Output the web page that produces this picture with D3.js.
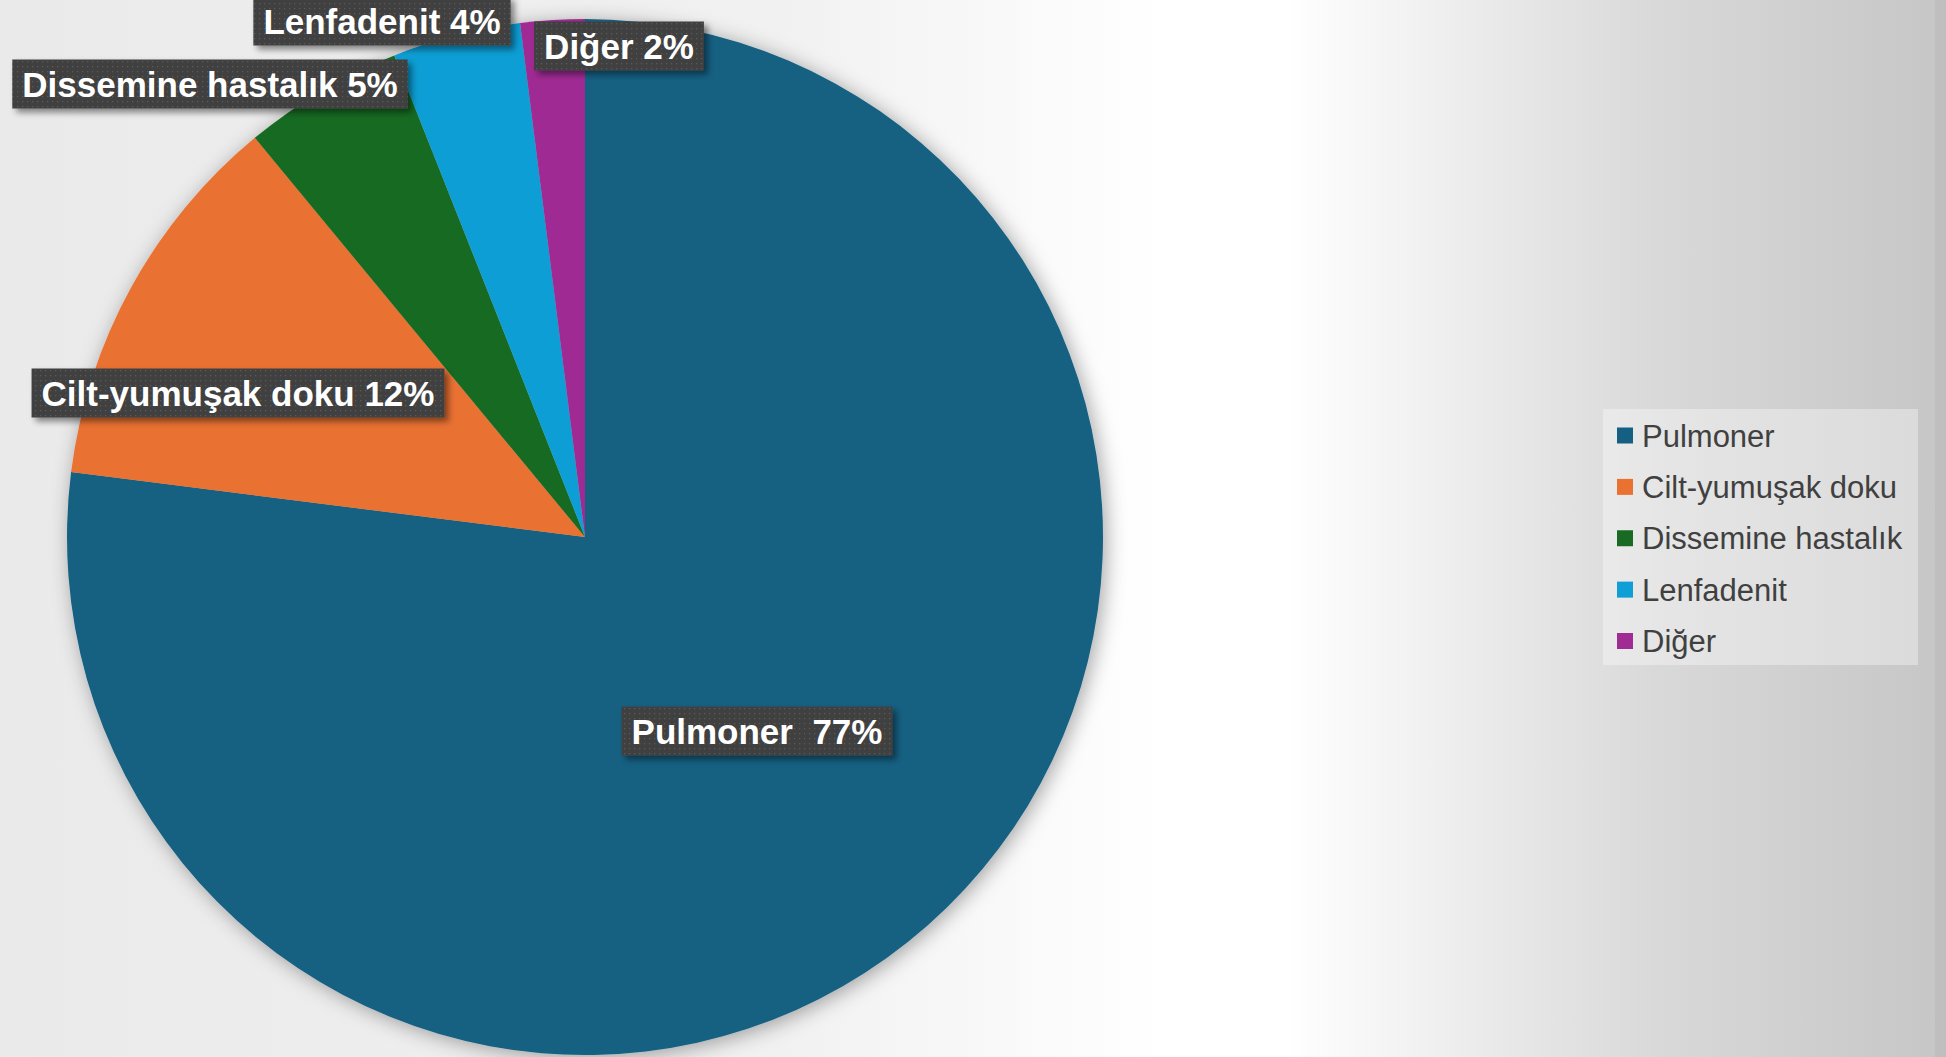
<!DOCTYPE html>
<html>
<head>
<meta charset="utf-8">
<script src="https://cdn.jsdelivr.net/npm/d3@7"></script>
<style>
  html, body { margin: 0; padding: 0; overflow: hidden; }
  svg { display: block; }
  text { font-family: "Liberation Sans", Arial, sans-serif; }
</style>
</head>
<body>
<svg></svg>
<script>
// Data
const categories = ['Pulmoner', 'Cilt-yumuşak doku', 'Dissemine hastalık', 'Lenfadenit', 'Diğer'];
const values = [77, 12, 5, 4, 2];
const dataLabels = ['Pulmoner  77%', 'Cilt-yumuşak doku 12%', 'Dissemine hastalık 5%', 'Lenfadenit 4%', 'Diğer 2%'];
const colors = ['#156082', '#E97132', '#196B24', '#0F9ED5', '#A02B93'];

// Layout
const W = 1946, H = 1057;
const cx = 585, cy = 537, R = 518;
// data label box centres (Excel "best fit" placement)
const labelPos = [[757, 731], [238, 393], [210, 84], [382, 21], [619, 46]];

const svg = d3.select('svg').attr('width', W).attr('height', H);
const defs = svg.append('defs');

// ---------------------------------------------------------
// Background gradient
const bg = defs.append('linearGradient').attr('id', 'bg')
    .attr('x1', 0).attr('x2', 1).attr('y1', 0).attr('y2', 0);
[[0, '#eaeaea'], [0.4, '#f1f1f1'], [0.6, '#ffffff'], [0.66, '#ffffff'], [0.85, '#d9d9d9'], [1, '#c6c6c6']]
    .forEach(([o, c]) => bg.append('stop').attr('offset', o).attr('stop-color', c));
svg.append('rect').attr('width', W).attr('height', H).attr('fill', 'url(#bg)');
svg.append('rect').attr('x', 1935).attr('width', 11).attr('height', H)
    .attr('fill', '#000').attr('opacity', 0.04);

// Shadows
defs.append('filter').attr('id', 'pieShadow')
    .attr('x', '-10%').attr('y', '-10%').attr('width', '120%').attr('height', '120%')
    .append('feDropShadow').attr('dx', 3).attr('dy', 3)
    .attr('stdDeviation', 10).attr('flood-color', '#000').attr('flood-opacity', 0.35);
defs.append('filter').attr('id', 'boxShadow')
    .attr('x', '-10%').attr('y', '-30%').attr('width', '130%').attr('height', '180%')
    .append('feDropShadow').attr('dx', 4).attr('dy', 4)
    .attr('stdDeviation', 3).attr('flood-color', '#000').attr('flood-opacity', 0.45);

// Dotted texture for label boxes
const pat = defs.append('pattern').attr('id', 'dots')
    .attr('width', 5).attr('height', 5).attr('patternUnits', 'userSpaceOnUse');
pat.append('rect').attr('width', 5).attr('height', 5).attr('fill', '#3f3f3f');
pat.append('rect').attr('x', 2).attr('y', 2).attr('width', 1.3).attr('height', 1.3).attr('fill', '#5a5a5a');

// ---------------------------------------------------------
// Pie
const pie = d3.pie().sort(null).value((d) => d)(values);
const arc = d3.arc().innerRadius(0).outerRadius(R);

const pieG = svg.append('g')
    .attr('transform', `translate(${cx},${cy})`)
    .attr('filter', 'url(#pieShadow)');
pieG.selectAll('path')
    .data(pie)
    .enter()
    .append('path')
    .attr('d', arc)
    .attr('fill', (d, i) => colors[i]);

// ---------------------------------------------------------
// Data labels
const labels = svg.append('g').selectAll('g')
    .data(dataLabels)
    .enter()
    .append('g')
    .attr('transform', (d, i) => `translate(${labelPos[i][0]},${labelPos[i][1]})`);

labels.each(function (d) {
    const g = d3.select(this);
    const rect = g.append('rect').attr('fill', 'url(#dots)').attr('filter', 'url(#boxShadow)');
    const t = g.append('text')
        .attr('text-anchor', 'middle')
        .attr('y', 12.5)
        .attr('fill', '#ffffff')
        .style('font-size', '35px')
        .style('font-weight', 'bold')
        .style('white-space', 'pre')
        .text(d);
    const w = t.node().getComputedTextLength() + 20;
    rect.attr('x', -w / 2).attr('y', -24.5).attr('width', w).attr('height', 49);
});

// ---------------------------------------------------------
// Legend
const legend = svg.append('g').attr('id', 'legend');
legend.append('rect')
    .attr('x', 1603).attr('y', 409).attr('width', 315).attr('height', 256)
    .attr('fill', '#ffffff').attr('opacity', 0.35);

const rowY = d3.scalePoint().domain(categories).range([435.5, 641]);
const items = legend.selectAll('g.item')
    .data(categories)
    .enter()
    .append('g')
    .attr('class', 'item')
    .attr('transform', (d) => `translate(1617,${rowY(d)})`);
items.append('rect')
    .attr('x', 0).attr('y', -8).attr('width', 16).attr('height', 16)
    .attr('fill', (d, i) => colors[i]);
items.append('text')
    .attr('x', 25).attr('y', 11)
    .attr('fill', '#404040')
    .style('font-size', '31px')
    .text((d) => d);
</script>
</body>
</html>
